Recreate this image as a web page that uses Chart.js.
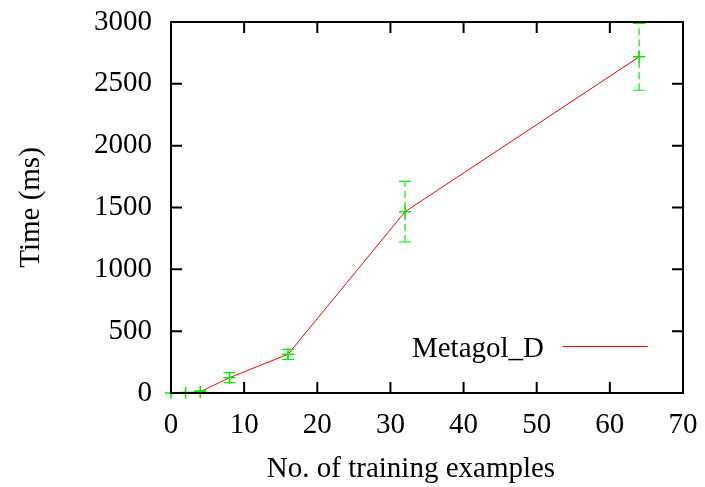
<!DOCTYPE html>
<html>
<head>
<meta charset="utf-8">
<script src="https://cdn.jsdelivr.net/npm/chart.js@4"></script>
<style>
  html, body { margin: 0; padding: 0; background: #fff; }
  #wrap { width: 705px; height: 487px; }
</style>
</head>
<body>
<div id="wrap"><canvas id="timeChart"></canvas></div>
<script>
const examples = [0, 2, 4, 8, 16, 32, 64];
const timeMs = [0, 2, 10, 124, 313, 1466, 2718];
const errLow = [0, 0, 2, 84, 272, 1221, 2448];
const errHigh = [0, 5, 18, 164, 353, 1711, 2988];
const xTicks = [0, 10, 20, 30, 40, 50, 60, 70];
const yTicks = [0, 500, 1000, 1500, 2000, 2500, 3000];
const seriesName = 'Metagol_D';
const xTitle = 'No. of training examples';
const yTitle = 'Time (ms)';

const FONT = 'Liberation Serif, Times New Roman, serif';
const FSIZE = 29;
const GREEN = '#00ee00';

// frame, mirrored inward ticks, error bars, x title and the in-plot key
const gnuplotLook = {
    id: 'gnuplotLook',
    afterDatasetsDraw(chart) {
        const ctx = chart.ctx;
        const a = chart.chartArea;
        const xs = chart.scales.x, ys = chart.scales.y;

        // error bars
        ctx.save();
        ctx.beginPath();
        ctx.rect(a.left, a.top - 1, a.right - a.left, a.bottom - a.top + 2);
        ctx.clip();
        ctx.strokeStyle = GREEN;
        ctx.lineWidth = 1.2;
        for (let i = 0; i < examples.length; i++) {
            const px = xs.getPixelForValue(examples[i]);
            const lo = ys.getPixelForValue(errLow[i]);
            const hi = ys.getPixelForValue(errHigh[i]);
            ctx.setLineDash([7, 4]);
            ctx.beginPath();
            ctx.moveTo(px, lo);
            ctx.lineTo(px, hi);
            ctx.stroke();
            ctx.setLineDash([]);
            ctx.beginPath();
            ctx.moveTo(px - 6, lo); ctx.lineTo(px + 6, lo);
            ctx.moveTo(px - 6, hi); ctx.lineTo(px + 6, hi);
            ctx.stroke();
        }
        ctx.restore();

        // frame and ticks
        ctx.save();
        ctx.strokeStyle = '#000';
        ctx.lineWidth = 2;
        ctx.strokeRect(a.left, a.top, a.right - a.left, a.bottom - a.top);
        ctx.beginPath();
        const tl = 11;
        xTicks.forEach(v => {
            const px = xs.getPixelForValue(v);
            ctx.moveTo(px, a.bottom); ctx.lineTo(px, a.bottom - tl);
            ctx.moveTo(px, a.top); ctx.lineTo(px, a.top + tl);
        });
        yTicks.forEach(v => {
            const py = ys.getPixelForValue(v);
            ctx.moveTo(a.left, py); ctx.lineTo(a.left + tl, py);
            ctx.moveTo(a.right, py); ctx.lineTo(a.right - tl, py);
        });
        ctx.stroke();
        ctx.restore();

        // x title (gnuplot puts it a bit left of the plot centre)
        ctx.save();
        ctx.font = FSIZE + 'px ' + FONT;
        ctx.fillStyle = '#000';
        ctx.textAlign = 'center';
        ctx.textBaseline = 'alphabetic';
        ctx.fillText(xTitle, 411, 477);

        // key
        ctx.textAlign = 'right';
        ctx.fillText(seriesName, 544, 357);
        ctx.strokeStyle = '#ff0000';
        ctx.lineWidth = 1;
        ctx.beginPath();
        ctx.moveTo(563, 346.5);
        ctx.lineTo(648, 346.5);
        ctx.stroke();
        ctx.restore();
    }
};

new Chart(document.getElementById('timeChart').getContext('2d'), {
    type: 'scatter',
    data: {
        datasets: [
            {
                label: seriesName,
                data: examples.map((x, i) => ({ x: x, y: timeMs[i] })),
                showLine: true,
                borderColor: '#ff0000',
                borderWidth: 1,
                tension: 0,
                pointStyle: 'cross',
                pointRadius: 6,
                pointBorderWidth: 1.5,
                pointBorderColor: GREEN,
                pointBackgroundColor: GREEN,
                clip: false
            }
        ]
    },
    options: {
        responsive: true,
        maintainAspectRatio: false,
        animation: false,
        devicePixelRatio: 1,
        layout: { padding: { left: 14, top: 22, right: 22, bottom: 2 } },
        scales: {
            x: {
                type: 'linear',
                min: 0,
                max: 70,
                afterBuildTicks: s => { s.ticks = xTicks.map(v => ({ value: v })); },
                afterFit: s => { s.height = 92; s.paddingLeft = 0; s.paddingRight = 0; },
                grid: { display: false, drawTicks: false },
                border: { display: false },
                ticks: { color: '#000', padding: 15, maxRotation: 0, callback: v => String(v), font: { family: FONT, size: FSIZE } },
                title: { display: false }
            },
            y: {
                type: 'linear',
                min: 0,
                max: 3000,
                afterBuildTicks: s => { s.ticks = yTicks.map(v => ({ value: v })); },
                afterFit: s => { s.width = 157; s.paddingTop = 0; s.paddingBottom = 0; },
                grid: { display: false, drawTicks: false },
                border: { display: false },
                ticks: { color: '#000', padding: 19, callback: v => String(v), font: { family: FONT, size: FSIZE } },
                title: { display: true, text: yTitle, color: '#000', padding: 0, font: { family: FONT, size: FSIZE } }
            }
        },
        plugins: {
            legend: { display: false },
            tooltip: { enabled: false }
        }
    },
    plugins: [gnuplotLook]
});
</script>
</body>
</html>
